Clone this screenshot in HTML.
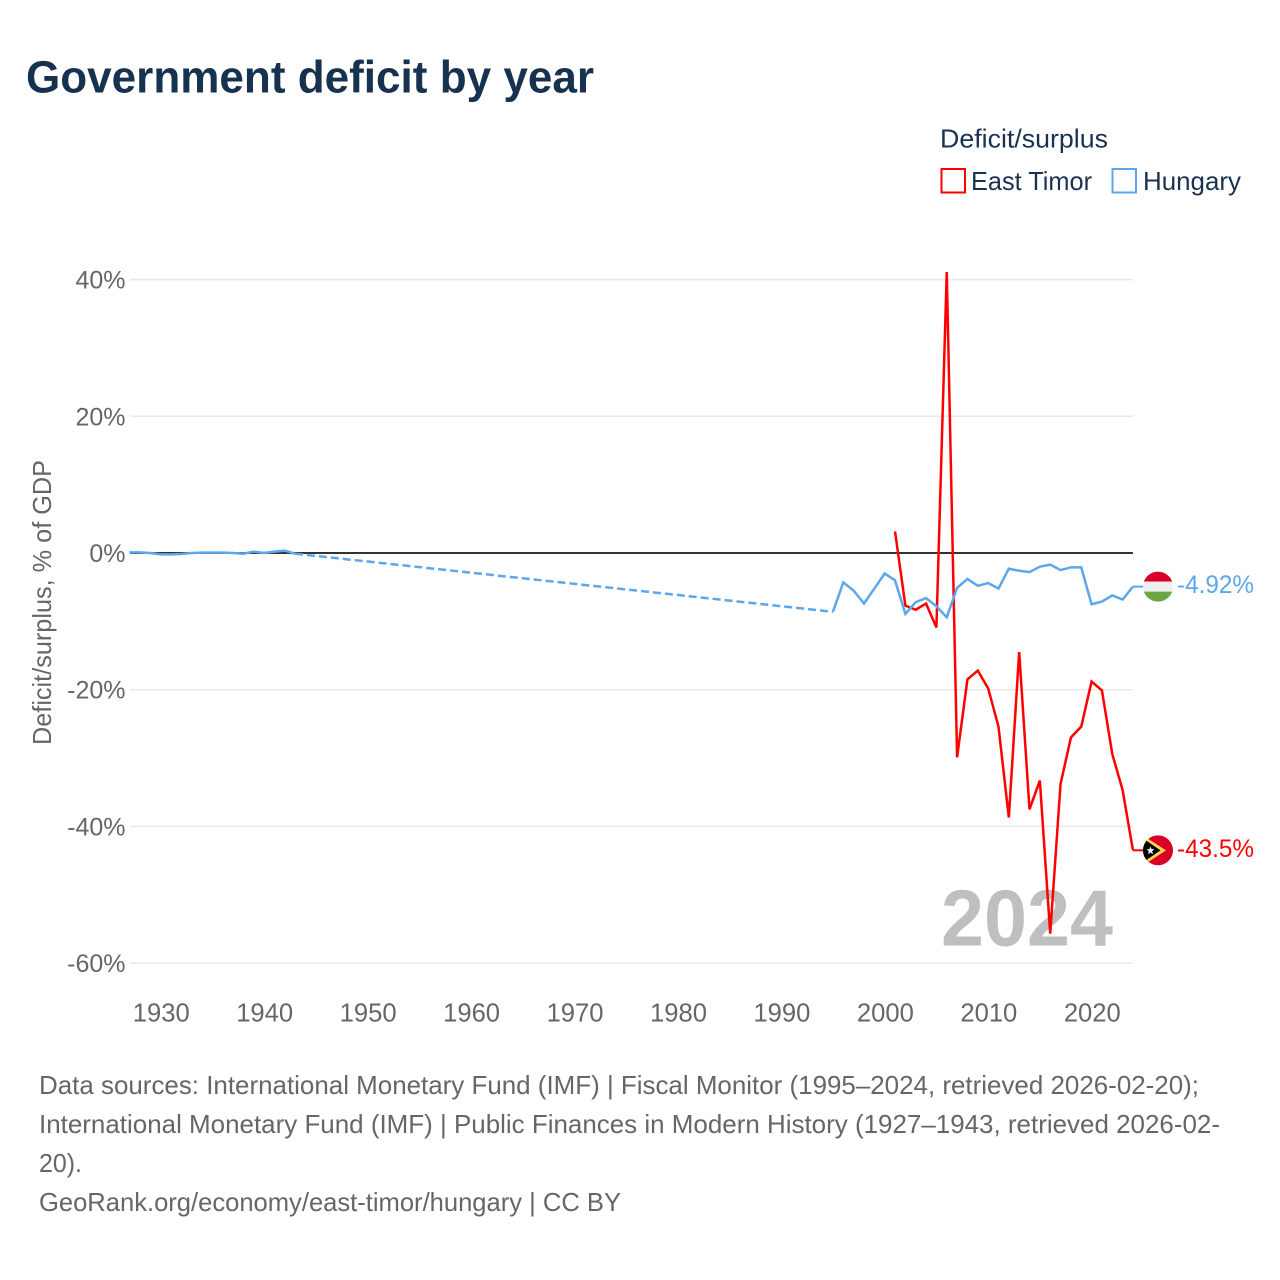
<!DOCTYPE html>
<html lang="en">
<head>
<meta charset="utf-8">
<title>Government deficit by year</title>
<style>
  html, body { margin: 0; padding: 0; background: #fff; }
  svg { display: block; font-family: "Liberation Sans", sans-serif; }
</style>
</head>
<body>
<svg id="chart" xmlns="http://www.w3.org/2000/svg" width="1280" height="1280" viewBox="0 0 1280 1280">
  <defs>
    <clipPath id="flag-clip"><circle cx="0" cy="0" r="15"></circle></clipPath>
  </defs>
  <rect width="1280" height="1280" fill="#ffffff"></rect>
  <text x="26" y="92.5" font-size="45.5" font-weight="700" fill="#17324f" textLength="568" lengthAdjust="spacingAndGlyphs">Government deficit by year</text>

  <g>
    <text x="940" y="147.5" font-size="26" fill="#1a3250" textLength="168" lengthAdjust="spacingAndGlyphs">Deficit/surplus</text>
    <rect x="941.5" y="169" width="23.5" height="23.5" fill="none" stroke="#ff0000" stroke-width="2"></rect>
    <text x="971" y="190" font-size="26" fill="#1a3250" textLength="121" lengthAdjust="spacingAndGlyphs">East Timor</text>
    <rect x="1112.5" y="169" width="23.5" height="23.5" fill="none" stroke="#5ca7ec" stroke-width="2"></rect>
    <text x="1143" y="190" font-size="26" fill="#1a3250" textLength="98" lengthAdjust="spacingAndGlyphs">Hungary</text>
  </g>

  <text transform="translate(51,745) rotate(-90)" x="0" y="0" font-size="26" fill="#666666" textLength="285" lengthAdjust="spacingAndGlyphs">Deficit/surplus, % of GDP</text>

  <g id="grid"></g>
  <g id="y-ticks"></g>
  <g id="x-ticks"></g>

  <text id="year-label" x="941" y="945.7" font-size="80" font-weight="700" fill="#bfbfbf" textLength="172" lengthAdjust="spacingAndGlyphs">2024</text>

  <g id="zero-line"></g>
  <g id="series"></g>
  <g id="end-markers"></g>

  <g font-size="26" fill="#666666">
    <text x="39" y="1094" textLength="1160" lengthAdjust="spacingAndGlyphs">Data sources: International Monetary Fund (IMF) | Fiscal Monitor (1995–2024, retrieved 2026-02-20);</text>
    <text x="39" y="1133" textLength="1181" lengthAdjust="spacingAndGlyphs">International Monetary Fund (IMF) | Public Finances in Modern History (1927–1943, retrieved 2026-02-</text>
    <text x="39" y="1172" textLength="43" lengthAdjust="spacingAndGlyphs">20).</text>
    <text x="39" y="1211" textLength="582" lengthAdjust="spacingAndGlyphs">GeoRank.org/economy/east-timor/hungary | CC BY</text>
  </g>
</svg>

<script>
const yTickValues = [40, 20, 0, -20, -40, -60];
const xTickYears = [1930, 1940, 1950, 1960, 1970, 1980, 1990, 2000, 2010, 2020];

const eastTimorYears = [2001, 2002, 2003, 2004, 2005, 2006, 2007, 2008, 2009, 2010, 2011, 2012, 2013, 2014, 2015, 2016, 2017, 2018, 2019, 2020, 2021, 2022, 2023, 2024];
const eastTimorValues = [3.15, -7.7, -8.3, -7.4, -10.9, 41.1, -29.9, -18.5, -17.2, -19.8, -25.4, -38.7, -14.5, -37.5, -33.3, -55.7, -33.8, -27, -25.4, -18.8, -20.1, -29.4, -34.7, -43.5];
const eastTimorEndLabel = "-43.5%";

const hungaryYears = [1927, 1928, 1929, 1930, 1931, 1932, 1933, 1934, 1935, 1936, 1937, 1938, 1939, 1940, 1941, 1942, 1943, 1995, 1996, 1997, 1998, 1999, 2000, 2001, 2002, 2003, 2004, 2005, 2006, 2007, 2008, 2009, 2010, 2011, 2012, 2013, 2014, 2015, 2016, 2017, 2018, 2019, 2020, 2021, 2022, 2023, 2024];
const hungaryValues = [0.1, 0.1, 0, -0.2, -0.2, -0.15, 0, 0.05, 0.05, 0.05, 0, -0.1, 0.2, 0, 0.2, 0.35, -0.1, -8.6, -4.3, -5.5, -7.4, -5.2, -3.0, -4.0, -8.9, -7.2, -6.6, -7.8, -9.4, -5.1, -3.8, -4.8, -4.4, -5.2, -2.3, -2.6, -2.8, -2.0, -1.7, -2.5, -2.1, -2.1, -7.5, -7.1, -6.2, -6.8, -4.92];
const hungaryEndLabel = "-4.92%";

const NS = "http://www.w3.org/2000/svg";
const RED = "#ff0000";
const BLUE = "#5ca7ec";
const PLOT_LEFT = 130;
const PLOT_RIGHT = 1133;
const FLAG_X = 1158;

function xScale(year) { return 129.5 + (year - 1927) * 10.345; }
function yScale(value) { return 553 - value * 6.835; }

function make(tag, attrs, parent) {
  const el = document.createElementNS(NS, tag);
  for (const k in attrs) el.setAttribute(k, attrs[k]);
  parent.appendChild(el);
  return el;
}

const grid = document.getElementById("grid");
const yTicks = document.getElementById("y-ticks");
yTickValues.forEach(function (v) {
  if (v !== 0) {
    const line = make("line", { x1: PLOT_LEFT, x2: PLOT_RIGHT, y1: yScale(v), y2: yScale(v), stroke: "#e9e9e9", "stroke-width": 1.5 }, grid);
    
    
  }
  const label = make("text", { x: 125.5, y: yScale(v) + 9, "text-anchor": "end", "font-size": 25, fill: "#666666" }, yTicks);
  label.textContent = v + "%";
  
  
});

const xTicks = document.getElementById("x-ticks");
xTickYears.forEach(function (year) {
  const label = make("text", { x: xScale(year) + 0.7, y: 1021.5, "text-anchor": "middle", "font-size": 25.6, fill: "#666666" }, xTicks);
  label.textContent = String(year);
  
  
});

const zero = make("line", { x1: PLOT_LEFT, x2: PLOT_RIGHT, y1: yScale(0), y2: yScale(0), stroke: "#333333", "stroke-width": 2 }, document.getElementById("zero-line"));



function drawSeries(years, values, color, seriesName) {
  const group = document.getElementById("series");
  let run = [];
  function flush() {
    if (run.length > 1) {
      const solid = make("polyline", { points: run.join(" "), fill: "none", stroke: color, "stroke-width": 2.5, "stroke-linejoin": "miter" }, group);
      
      
    }
    run = [];
  }
  years.forEach(function (year, i) {
    if (i > 0 && year - years[i - 1] > 1) {
      flush();
      const gap = make("line", { x1: xScale(years[i - 1]), y1: yScale(values[i - 1]), x2: xScale(year), y2: yScale(values[i]), stroke: color, "stroke-width": 2.5, "stroke-dasharray": "8 4" }, group);
      
      
    }
    run.push(xScale(year) + "," + yScale(values[i]));
  });
  flush();
  const lastY = yScale(values[values.length - 1]);
  const tail = make("line", { x1: xScale(years[years.length - 1]), y1: lastY, x2: 1143, y2: lastY, stroke: color, "stroke-width": 2 }, group);
  
  
}

function drawHungaryFlag(parent) {
  make("rect", { x: -15, y: -15, width: 30, height: 10, fill: "#d80027" }, parent);
  make("rect", { x: -15, y: -5, width: 30, height: 10, fill: "#f0f0f0" }, parent);
  make("rect", { x: -15, y: 5, width: 30, height: 10, fill: "#6da544" }, parent);
}

function drawTimorFlag(parent) {
  make("rect", { x: -15, y: -15, width: 30, height: 30, fill: "#d80027" }, parent);
  make("polygon", { points: "-15,-15 8,0 -15,15", fill: "#ffda44" }, parent);
  make("polygon", { points: "-15,-12 2.5,0 -15,12", fill: "#000000" }, parent);
  make("polygon", { points: "-7.5,-4 -6.4,-1.2 -3.5,-1.2 -5.8,0.8 -5,4 -7.5,2.2 -10,4 -9.2,0.8 -11.5,-1.2 -8.6,-1.2", fill: "#f0f0f0" }, parent);
}

function drawEndMarker(values, color, labelText, flagFn, seriesName) {
  const group = document.getElementById("end-markers");
  const yPos = yScale(values[values.length - 1]);
  const flag = make("g", { transform: "translate(" + FLAG_X + "," + yPos + ")", "clip-path": "url(#flag-clip)" }, group);
  
  
  flagFn(flag);
  const label = make("text", { x: 1177, y: yPos + 6.5, "font-size": 25, fill: color, textLength: 77, lengthAdjust: "spacingAndGlyphs" }, group);
  label.textContent = labelText;
  
  
}

drawSeries(eastTimorYears, eastTimorValues, RED, "east-timor");
drawSeries(hungaryYears, hungaryValues, BLUE, "hungary");
drawEndMarker(hungaryValues, BLUE, hungaryEndLabel, drawHungaryFlag, "hungary");
drawEndMarker(eastTimorValues, RED, eastTimorEndLabel, drawTimorFlag, "east-timor");
</script>
</body>
</html>
